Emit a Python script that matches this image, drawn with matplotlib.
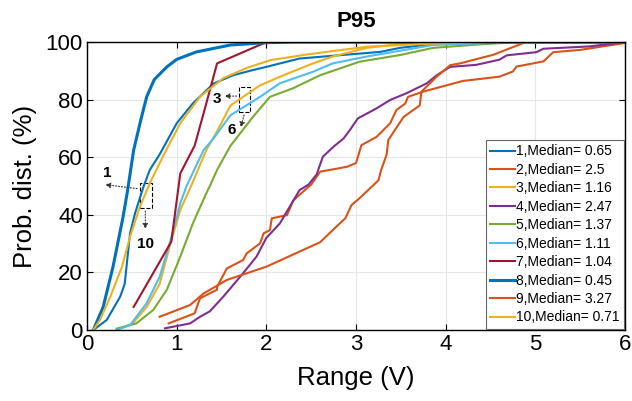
import numpy as np
import matplotlib
matplotlib.use("Agg")
import matplotlib.pyplot as plt

plt.rcParams['font.family'] = ['Liberation Sans', 'DejaVu Sans']

# CDF curves (x = range in V, y = %)
x1 = [0.07, 0.22, 0.37, 0.42, 0.48, 0.535, 0.63, 0.70, 0.81, 1.0, 1.18, 1.41, 1.63, 1.85, 2.0, 2.37, 3.27, 3.49, 3.86, 4.5, 6]
y1 = [0, 3.5, 11.6, 16, 33.6, 40.5, 49.8, 55.6, 61, 71.8, 78.7, 85.6, 88.5, 90.3, 91.4, 94.3, 96.6, 98, 99.3, 100, 100]

x2 = [0.91, 1.2, 1.26, 1.45, 1.45, 1.56, 1.74, 1.78, 1.93, 1.97, 2.04, 2.06, 2.23, 2.3, 2.45, 2.5, 2.56, 2.6, 2.9, 3.0,
      3.06, 3.23, 3.38, 3.45, 3.55, 3.58, 3.75, 3.82, 4.19, 4.6, 4.75, 4.79, 5.09, 5.2, 5.5, 5.98, 6]
y2 = [2.3, 5.8, 11, 14, 15, 21.4, 24.3, 26.6, 30.1, 33.6, 34.7, 38.8, 39.9, 45, 49.2, 50.5, 53.2, 55, 56.7, 58,
      64.2, 67.1, 71.8, 76.4, 78.7, 81, 82.8, 83.4, 86.5, 88, 89.8, 91.5, 93.3, 96.5, 97.3, 99.6, 100]

x3 = [0.33, 0.51, 0.665, 0.81, 0.93, 1.04, 1.16, 1.33, 1.45, 1.6, 1.93, 2.23, 2.52, 2.74, 3.12, 3.49, 4.0, 6]
y3 = [0, 2.3, 8, 16, 30, 41.7, 50, 62.5, 69, 78, 85, 89, 92.6, 95, 98, 99.3, 100, 100]

x4 = [0.87, 1.15, 1.26, 1.37, 1.52, 1.74, 1.89, 2.0, 2.15, 2.26, 2.37, 2.47, 2.56, 2.63, 2.75, 2.86, 2.93, 3.02, 3.23,
      3.38, 3.56, 3.79, 3.9, 4.05, 4.34, 4.6, 4.68, 5.01, 5.09, 5.6, 5.9, 6]
y4 = [0.6, 2.3, 4.6, 6.5, 11.6, 19.7, 25.5, 32, 37, 42.8, 48.6, 50.5, 54, 60.2, 63.7, 66.5, 69.4, 73.5, 77,
      79.9, 82.2, 85.7, 88.5, 91.4, 92.1, 93.9, 95.4, 96.5, 97.7, 98.5, 99.6, 100]

x5 = [0.33, 0.55, 0.74, 0.89, 1.04, 1.18, 1.33, 1.37, 1.45, 1.6, 1.85, 2.04, 2.3, 2.6, 3.04, 3.49, 3.86, 4.42, 4.8, 6]
y5 = [0.5, 2.3, 7, 14, 25.5, 37, 47.5, 50, 55.6, 64, 74, 81, 84, 88.5, 93.2, 95.5, 98, 99.3, 100, 100]

x6 = [0.33, 0.48, 0.665, 0.81, 0.93, 1.04, 1.11, 1.3, 1.41, 1.6, 1.93, 2.15, 2.52, 2.74, 3.12, 3.49, 3.86, 4.6, 6]
y6 = [0, 1.7, 9.3, 18.5, 31, 44, 50, 62.5, 66.5, 74.6, 81, 85.7, 89.7, 92.6, 95, 97, 99, 99.8, 100]

x7 = [0.52, 0.94, 1.04, 1.2, 1.33, 1.45, 2.0, 6]
y7 = [8, 30.7, 54.4, 64, 78.7, 92.6, 100, 100]

x8 = [0.07, 0.18, 0.29, 0.40, 0.45, 0.52, 0.6, 0.665, 0.75, 0.89, 1.0, 1.22, 1.6, 2.0, 2.3, 6]
y8 = [0, 8, 22, 39, 48, 62.5, 73, 81, 87, 91.4, 94, 96.6, 99, 99.8, 100, 100]

x9 = [0.81, 1.15, 1.3, 1.56, 2.0, 2.6, 2.74, 2.88, 2.95, 3.04, 3.25, 3.28, 3.34, 3.36, 3.53, 3.71, 3.73, 3.9, 4.05,
      4.16, 4.53, 4.86, 4.9, 6]
y9 = [4.6, 8.7, 12.7, 17.4, 22, 30.5, 34.7, 38.8, 43.4, 45.8, 52, 55.6, 60.8, 66, 74, 78, 82.8, 88, 92,
      92.6, 95.6, 99.6, 100, 100]

x10 = [0.07, 0.145, 0.26, 0.39, 0.48, 0.59, 0.70, 0.85, 1.04, 1.26, 1.52, 1.78, 2.04, 2.45, 3.12, 3.86, 4.5, 6]
y10 = [0, 3.5, 11.6, 22, 32.4, 42.8, 51, 60.5, 71.8, 81, 87.5, 91, 93.7, 95.7, 98.4, 99.5, 100, 100]

medians = [0.65, 2.5, 1.16, 2.47, 1.37, 1.11, 1.04, 0.45, 3.27, 0.71]

xs = [x1, x2, x3, x4, x5, x6, x7, x8, x9, x10]
ys = [y1, y2, y3, y4, y5, y6, y7, y8, y9, y10]

colors = ['#0072BD', '#D95319', '#EDB120', '#7E2F8E', '#77AC30',
          '#4DBEEE', '#A2142F', '#0072BD', '#D95319', '#EDB120']
widths = [1.5, 1.5, 1.5, 1.5, 1.5, 1.5, 1.5, 2.2, 1.5, 1.5]

fig = plt.figure(figsize=(6.32, 4.01), dpi=100)
ax = fig.add_axes([0.1377, 0.177, 0.8513, 0.718])

for i in range(10):
    ax.plot(xs[i], ys[i], color=colors[i], lw=widths[i],
            label=f"{i+1},Median= {medians[i]}")

ax.set_xlim(0, 6)
ax.set_ylim(0, 100)
ax.set_xticks([0, 1, 2, 3, 4, 5, 6])
ax.set_yticks([0, 20, 40, 60, 80, 100])
ax.grid(True, color='#e6e6e6', lw=0.8)
ax.set_axisbelow(True)
ax.tick_params(direction='in', top=True, right=True, labelsize=16, length=4, width=0.8, pad=3)
for s in ax.spines.values():
    s.set_linewidth(1.0)

ax.set_xlabel("Range (V)", fontsize=18.5, labelpad=8)
ax.set_ylabel("Prob. dist. (%)", fontsize=18.5, labelpad=6)
ax.set_title("P95", fontsize=16, fontweight='bold', pad=11)

leg = ax.legend(loc='lower right', fontsize=10, frameon=True, fancybox=False,
                edgecolor='#666666', framealpha=1, handlelength=1.75, handletextpad=0.1,
                labelspacing=0.32, borderaxespad=0.1, borderpad=0.3)
leg.get_frame().set_linewidth(0.8)

# zoom boxes and arrows
arrow_kw = dict(arrowstyle='-|>', linestyle=':', color='#333333', lw=0.8, mutation_scale=8)
ax.add_patch(plt.Rectangle((0.59, 42.3), 0.14, 8.7, fill=False, ls='--', lw=0.8, ec='black'))
ax.annotate("", xy=(0.17, 50.6), xytext=(0.59, 49), arrowprops=arrow_kw)
ax.annotate("", xy=(0.65, 34.1), xytext=(0.65, 42.3), arrowprops=arrow_kw)
ax.text(0.22, 54.5, "1", fontsize=11, fontweight='bold', ha='center', va='center')
ax.text(0.65, 30.0, "10", fontsize=11, fontweight='bold', ha='center', va='center')

ax.add_patch(plt.Rectangle((1.70, 75.6), 0.12, 8.7, fill=False, ls='--', lw=0.8, ec='black'))
ax.annotate("", xy=(1.50, 81.25), xytext=(1.70, 81.25), arrowprops=arrow_kw)
ax.annotate("", xy=(1.705, 69.4), xytext=(1.76, 75.6), arrowprops=arrow_kw)
ax.text(1.45, 80.4, "3", fontsize=11, fontweight='bold', ha='center', va='center')
ax.text(1.61, 69.4, "6", fontsize=11, fontweight='bold', ha='center', va='center')

fig.savefig("out.png", dpi=100)
